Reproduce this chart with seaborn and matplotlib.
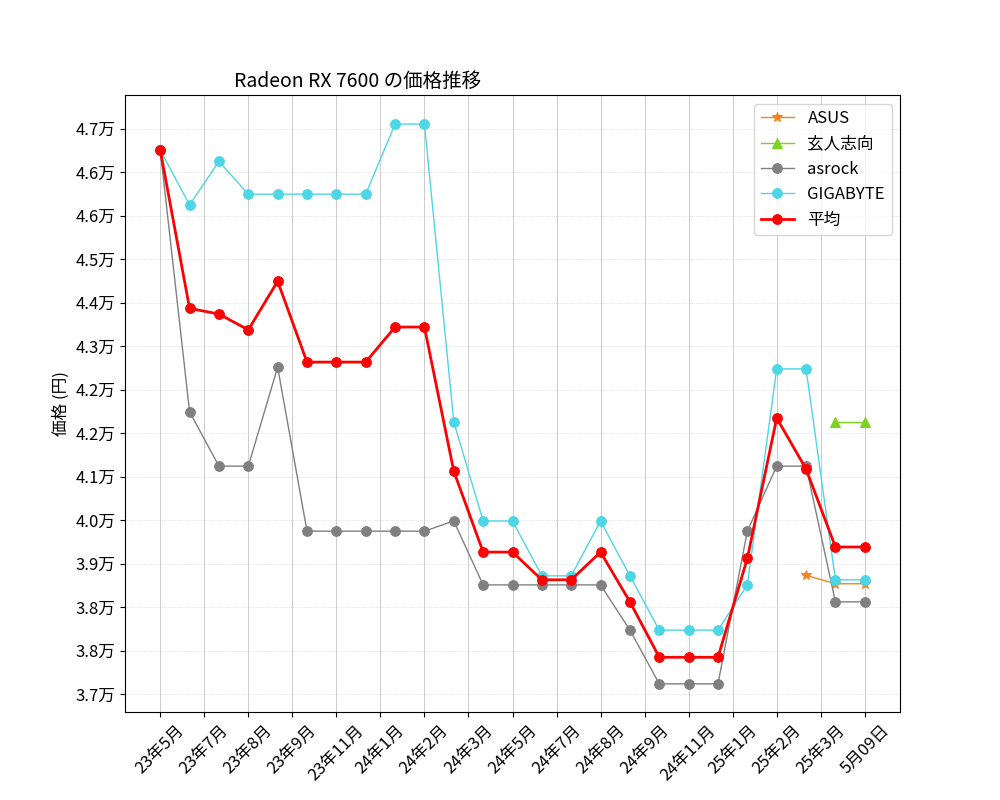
import numpy as np
import pandas as pd
import matplotlib
matplotlib.use("Agg")
import matplotlib.pyplot as plt
import seaborn as sns

plt.rcParams["font.family"] = ["Noto Sans CJK JP", "DejaVu Sans"]

x_idx = list(range(25))
tick_pos = [0, 1.5, 3, 4.5, 6, 7.5, 9, 10.5, 12, 13.5, 15, 16.5, 18, 19.5, 21, 22.5, 24]
tick_labels = ["23年5月", "23年7月", "23年8月", "23年9月", "23年11月", "24年1月", "24年2月",
               "24年3月", "24年5月", "24年7月", "24年8月", "24年9月", "24年11月", "25年1月",
               "25年2月", "25年3月", "5月09日"]
ytick_vals = [37000 + i * 769.2 for i in range(14)]
ytick_labels = ["3.7万", "3.8万", "3.8万", "3.9万", "4.0万", "4.1万", "4.2万", "4.2万",
                "4.3万", "4.4万", "4.5万", "4.6万", "4.6万", "4.7万"]

nan = np.nan
asus = [nan]*22 + [39100, 38950, 38950]
kuroto = [nan]*23 + [41810, 41810]
asrock = [46620, 41990, 41030, 41030, 42780, 39880, 39880, 39880, 39880, 39880, 40060,
          38930, 38930, 38930, 38930, 38930, 38130, 37180, 37180, 37180, 39880, 41030,
          41030, 38630, 38630]
gigabyte = [46620, 45650, 46420, 45840, 45840, 45840, 45840, 45840, 47080, 47080, 41810,
            40060, 40060, 39090, 39090, 40060, 39090, 38130, 38130, 38130, 38930, 42750,
            42750, 39020, 39020]
average = [46620, 43820, 43720, 43440, 44300, 42870, 42870, 42870, 43490, 43490, 40940,
           39510, 39510, 39020, 39020, 39510, 38630, 37650, 37650, 37650, 39400, 41880,
           40980, 39600, 39600]

fig, ax = plt.subplots(figsize=(10, 8), dpi=100)

series = [
    ("ASUS", asus, "#f28522", "*", 1.0, 7),
    ("玄人志向", kuroto, "#7ed321", "^", 1.0, 7),
    ("asrock", asrock, "#808080", "o", 1.0, 7),
    ("GIGABYTE", gigabyte, "#4dd6e6", "o", 1.0, 7),
    ("平均", average, "#ff0000", "o", 2.0, 7),
]
for name, vals, col, mk, lw, ms in series:
    df = pd.DataFrame({"x": x_idx, "y": vals}).dropna()
    sns.lineplot(data=df, x="x", y="y", ax=ax, color=col, marker=mk, markersize=ms,
                 markeredgecolor=col, linewidth=lw, label=name)

ax.set_xticks(tick_pos)
ax.set_xticklabels(tick_labels, rotation=45, fontsize=12)
ax.set_yticks(ytick_vals)
ax.set_yticklabels(ytick_labels, fontsize=12)
ax.set_ylim(36682, 47590)
ax.set_xlabel("")
ax.set_ylabel("価格 (円)", fontsize=12)
ax.set_title("Radeon RX 7600 の価格推移", fontsize=14, x=0.3)
ax.grid(True, axis="x", color="#cccccc", linewidth=0.7)
ax.grid(True, axis="y", color="#cccccc", linewidth=0.5, linestyle=":")
ax.legend(loc="upper right", fontsize=12)
plt.subplots_adjust(left=0.125, right=0.9, top=0.881, bottom=0.11)
fig.savefig("out.png")
